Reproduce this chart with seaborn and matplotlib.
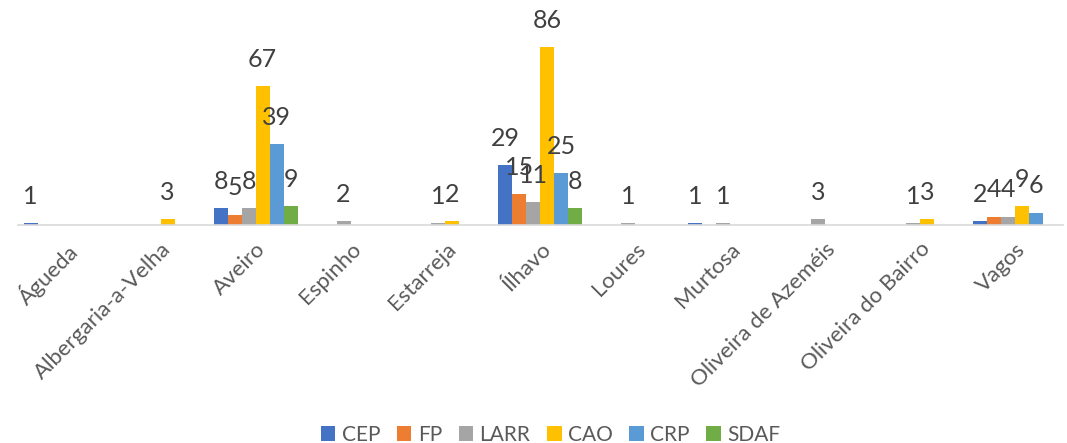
import numpy as np
import pandas as pd
import matplotlib
matplotlib.use("Agg")
import matplotlib.pyplot as plt
import seaborn as sns

# Data
concelhos = ["Águeda", "Albergaria-a-Velha", "Aveiro", "Espinho", "Estarreja", "Ílhavo",
             "Loures", "Murtosa", "Oliveira de Azeméis", "Oliveira do Bairro", "Vagos"]
series = ["CEP", "FP", "LARR", "CAO", "CRP", "SDAF"]
cep = [1, 0, 8, 0, 0, 29, 0, 1, 0, 0, 2]
fp = [0, 0, 5, 0, 0, 15, 0, 0, 0, 0, 4]
larr = [0, 0, 8, 2, 1, 11, 1, 1, 3, 1, 4]
cao = [0, 3, 67, 0, 2, 86, 0, 0, 0, 3, 9]
crp = [0, 0, 39, 0, 0, 25, 0, 0, 0, 0, 6]
sdaf = [0, 0, 9, 0, 0, 8, 0, 0, 0, 0, 0]
cores = ["#4472C4", "#ED7D31", "#A5A5A5", "#FFC000", "#5B9BD5", "#70AD47"]

valores = [cep, fp, larr, cao, crp, sdaf]
rows = []
for s, v in zip(series, valores):
    for c, n in zip(concelhos, v):
        rows.append({"Concelho": c, "Serie": s, "Valor": n})
df = pd.DataFrame(rows)

sns.set_theme(style="white")
plt.rcParams['font.family'] = ['Lato', 'DejaVu Sans']

fig = plt.figure(figsize=(10.67, 4.43), dpi=100)
ax = fig.add_axes([0.017, 0.492, 0.979, 0.467])
sns.barplot(data=df, x="Concelho", y="Valor", hue="Serie", palette=cores,
            width=0.885, saturation=1, linewidth=0, ax=ax, legend=True)

for cont in ax.containers:
    labs = [str(int(b.get_height())) if b.get_height() > 0 else "" for b in cont]
    ax.bar_label(cont, labels=labs, padding=11, fontsize=18, color="#404040")

ax.set_ylim(0, 100)
ax.set_xlim(-0.5, len(concelhos) - 0.5)
ax.set_xlabel("")
ax.set_ylabel("")
ax.set_yticks([])
for sp in ["top", "right", "left"]:
    ax.spines[sp].set_visible(False)
ax.spines["bottom"].set_color("#D9D9D9")
ax.spines["bottom"].set_linewidth(1.2)
ax.tick_params(axis="x", length=0, pad=10)
plt.setp(ax.get_xticklabels(), rotation=45, ha="right", rotation_mode="anchor",
         fontsize=16, color="#595959")

h, l = ax.get_legend_handles_labels()
ax.get_legend().remove()
fig.legend(h, l, loc="center", ncol=6, frameon=False, fontsize=15,
           bbox_to_anchor=(0.516, 0.018), handlelength=0.7, handleheight=0.7,
           handletextpad=0.3, columnspacing=0.8, labelcolor="#595959")

fig.savefig("out.png", dpi=100)
